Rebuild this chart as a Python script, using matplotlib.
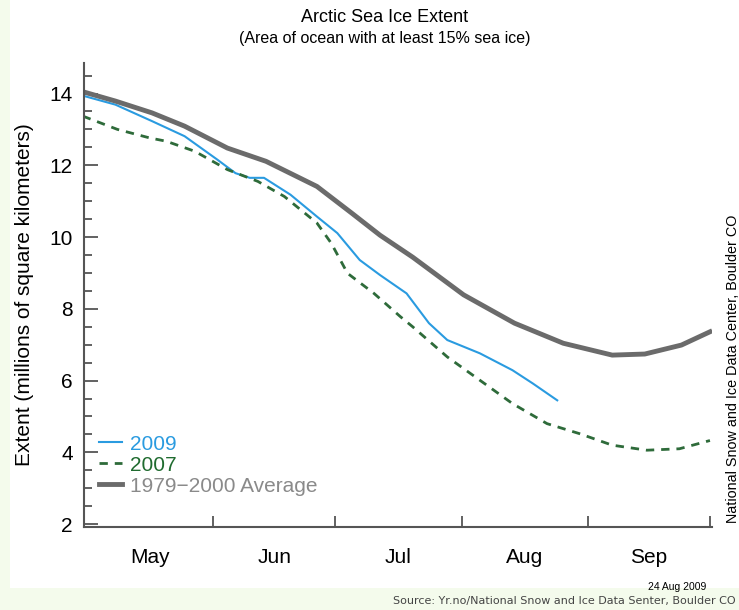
import matplotlib
matplotlib.use("Agg")
import matplotlib.pyplot as plt
from matplotlib.patches import Rectangle

# day of year values
avg_days = [120, 128, 137, 145, 155.5, 165, 177.5, 186, 193, 201, 213.5, 226, 238, 250, 258, 267, 274]
avg_ext = [14.05, 13.79, 13.46, 13.09, 12.48, 12.11, 11.41, 10.67, 10.05, 9.44, 8.39, 7.6, 7.04, 6.71, 6.74, 6.99, 7.36]

y09_days = [120, 128, 137, 145, 153, 157.5, 161, 164.5, 171, 177.5, 182.5, 188, 193, 199.5, 205, 209.5, 217.5, 225.5, 230.5, 236.5]
y09_ext = [13.94, 13.69, 13.23, 12.81, 12.16, 11.78, 11.65, 11.65, 11.18, 10.57, 10.11, 9.36, 8.94, 8.43, 7.6, 7.13, 6.76, 6.29, 5.92, 5.45]

y07_days = [120, 128.5, 136.5, 140.5, 147.5, 155.5, 163, 169.5, 177.5, 181, 185, 191.5, 198, 201, 209.5, 217.5, 225.5, 234, 242, 250, 258.5, 266.5, 274]
y07_ext = [13.37, 13.0, 12.76, 12.67, 12.39, 11.88, 11.55, 11.13, 10.39, 9.83, 8.99, 8.43, 7.78, 7.5, 6.66, 6.01, 5.36, 4.8, 4.52, 4.2, 4.06, 4.1, 4.33]

month_starts = [152, 182, 213, 244, 274]
month_mids = [136.5, 167, 197.5, 228.5, 259]
month_names = ["May", "Jun", "Jul", "Aug", "Sep"]

plt.rcParams["font.family"] = ["Liberation Sans", "DejaVu Sans"]

fig = plt.figure(figsize=(7.39, 6.10), dpi=100)
fig.patch.set_facecolor("#f4fbec")
fig.patches.append(Rectangle((10/739, 1-588/610), 1, 588/610, transform=fig.transFigure,
                             facecolor="white", edgecolor="none", zorder=-5))

ax = fig.add_axes([84/739, 1-527/610, 628/739, 464/610])
ax.set_facecolor("none")

ax.plot(y09_days, y09_ext, color="#2a9be0", lw=1.5, label="2009", solid_joinstyle="round")
ax.plot(y07_days, y07_ext, color="#2e6b3a", lw=2, ls=(0, (3, 2.5)), label="2007")
ax.plot(avg_days, avg_ext, color="#6b6b6b", lw=3.5, label="1979\u22122000 Average",
        solid_joinstyle="round")

ax.set_xlim(120.3, 274.5)
ax.set_ylim(1.92, 14.85)

for s in ["top", "right"]:
    ax.spines[s].set_visible(False)
for s in ["left", "bottom"]:
    ax.spines[s].set_color("#555555")
    ax.spines[s].set_linewidth(1.5)

ax.set_yticks([2, 4, 6, 8, 10, 12, 14])
ax.set_yticks([v / 2 for v in range(4, 30)], minor=True)
ax.tick_params(axis="y", which="major", direction="in", length=10, width=1.3, color="#555555",
               labelsize=15, pad=8)
ax.tick_params(axis="y", which="minor", direction="in", length=6, width=1.3, color="#555555")

ax.set_xticks(month_starts)
ax.set_xticklabels([])
ax.set_xticks(month_mids, minor=True)
ax.set_xticklabels(month_names, minor=True)
ax.tick_params(axis="x", which="major", direction="in", length=8, width=1.3, color="#555555")
ax.tick_params(axis="x", which="minor", length=0, labelsize=15, pad=15)

ax.set_ylabel("Extent (millions of square kilometers)", fontsize=15, labelpad=11)

leg = ax.legend(loc="lower left", bbox_to_anchor=(-0.006, 0.027), frameon=False, fontsize=15,
                handlelength=1.1, handletextpad=0.4, labelspacing=0.1,
                labelcolor=["#2a9be0", "#1f6b2f", "#8a8a8a"])

fig.text(385/739, 1-18/610, "Arctic Sea Ice Extent", ha="center", va="center", fontsize=13)
fig.text(385/739, 1-38/610, "(Area of ocean with at least 15% sea ice)", ha="center", va="center",
         fontsize=11.5)
fig.text(733/739, 1-369/610, "National Snow and Ice Data Center, Boulder CO", rotation=90,
         ha="center", va="center", fontsize=10.4)
fig.text(677/739, 1-587/610, "24 Aug 2009", ha="center", va="center", fontsize=7.5)
fig.text(393/739, 1-601/610, "Source: Yr.no/National Snow and Ice Data Senter, Boulder CO",
         ha="left", va="center", fontsize=8.0, family="DejaVu Sans", color="#444444")

fig.savefig("out.png", dpi=100, facecolor=fig.get_facecolor())
